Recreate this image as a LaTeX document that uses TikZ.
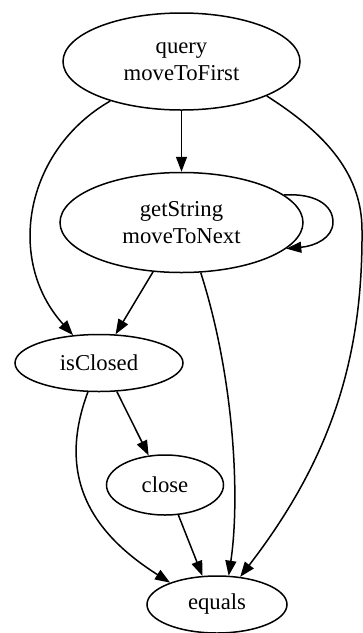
\documentclass[tikz,border=0pt]{standalone}
\usepackage{fontspec}
\setmainfont{Liberation Serif}
\usetikzlibrary{shapes.geometric,arrows.meta}
\begin{document}
\begin{tikzpicture}[x=1pt,y=-1pt,
  nd/.style={draw,ellipse,line width=1.5pt,inner sep=0pt,align=center,
    font=\fontsize{22.7}{27}\selectfont},
  arr/.style={line width=1.5pt,-{Triangle[length=15pt,width=11pt]}}]
\useasboundingbox (0,0) rectangle (363,633);
\node[nd,minimum width=237pt,minimum height=97pt] (q) at (181.5,61.5) {query\\moveToFirst};
\node[nd,minimum width=243pt,minimum height=100pt] (gs) at (181.5,222.5) {getString\\moveToNext};
\node[nd,minimum width=168pt,minimum height=57pt] (ic) at (99,363) {isClosed};
\node[nd,minimum width=117pt,minimum height=60pt] (cl) at (165,485) {close};
\node[nd,minimum width=140pt,minimum height=57pt] (eq) at (217,604.5) {equals};
\coordinate (qe) at (362,230);
\coordinate (lp) at (333,222);
% edges
\draw[arr] (q) -- (gs);
\draw[arr] (q.-151) .. controls (25,150) and (5,260) .. (ic.133);
\draw[line width=1.5pt] (q.-22) .. controls (320,130) and (362,170) .. (qe);
\draw[arr] (qe) .. controls (363,360) and (330,460) .. (eq.50);
\draw[line width=1.5pt] (gs.15) .. controls (315,193) and (333,205) .. (lp);
\draw[arr] (lp) .. controls (333,238) and (315,246) .. (gs.-14);
\draw[arr] (gs.-120) -- (ic.60);
\draw[arr] (gs.-69.5) .. controls (235,380) and (240,500) .. (eq.68);
\draw[arr] (ic.-58.7) -- (cl.119.5);
\draw[arr] (ic.-111.4) .. controls (55,480) and (95,535) .. (eq.155);
\draw[arr] (cl.-66) -- (eq.117);
\end{tikzpicture}
\end{document}
